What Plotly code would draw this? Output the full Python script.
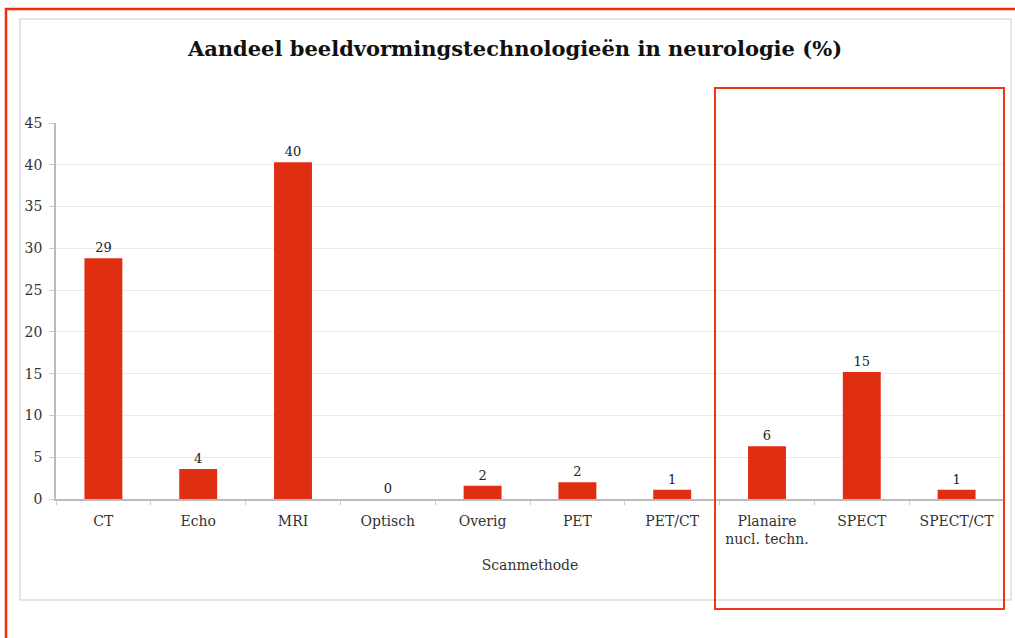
import plotly.graph_objects as go

# Data
categories = ["CT", "Echo", "MRI", "Optisch", "Overig", "PET", "PET/CT",
              "Planaire<br>nucl. techn.", "SPECT", "SPECT/CT"]
shares = [28.8, 3.6, 40.3, 0.0, 1.6, 2.0, 1.1, 6.3, 15.2, 1.1]

W, H = 1015, 638
# plot area in pixels
L, R, T, B = 56, 1004, 123, 499


def px(x):
    return (x - L) / (R - L)


def py(y):
    return (B - y) / (B - T)


font = "Georgia, 'DejaVu Serif', serif"
bar_red = "#e02e12"

fig = go.Figure()
fig.add_trace(go.Bar(
    x=categories,
    y=shares,
    width=0.4,
    marker=dict(color=bar_red, line=dict(width=0)),
    text=[f"{v:.0f}" for v in shares],
    textposition="outside",
    textfont=dict(size=13, color="#222", family=font),
    cliponaxis=False,
    hoverinfo="x+y",
))

shapes = [
    # light grey frame around the chart
    dict(type="rect", xref="paper", yref="paper",
         x0=px(20), x1=px(1011), y0=py(600), y1=py(19),
         line=dict(color="#dddddd", width=1.5), layer="below"),
    # red outer frame (runs off the right and bottom edges)
    dict(type="rect", xref="paper", yref="paper",
         x0=px(6), x1=px(1030), y0=py(660), y1=py(9),
         line=dict(color="#f52a0a", width=2.5)),
    # red highlight box
    dict(type="rect", xref="paper", yref="paper",
         x0=px(715), x1=px(1004), y0=py(609), y1=py(88),
         line=dict(color="#f0361a", width=2)),
]

fig.update_layout(
    width=W, height=H,
    margin=dict(l=L, r=W - R, t=T, b=H - B),
    paper_bgcolor="white",
    plot_bgcolor="white",
    showlegend=False,
    font=dict(family=font, size=14, color="#333"),
    title=dict(text="<b>Aandeel beeldvormingstechnologieën in neurologie (%)</b>",
               x=px(515), xref="paper", xanchor="center",
               y=1 - 49 / H, yanchor="middle",
               font=dict(size=21, color="#111", family=font)),
    xaxis=dict(
        title=dict(text="Scanmethode", font=dict(size=14, color="#333"), standoff=14),
        tickson="boundaries", ticks="outside", ticklen=4, tickcolor="#cccccc",
        ticklabelstandoff=8,
        showline=True, linecolor="#bbbbbb", linewidth=1.5,
        tickfont=dict(size=14, color="#333"),
    ),
    yaxis=dict(
        range=[0, 45], dtick=5, tickmode="linear",
        ticks="outside", ticklen=5, tickcolor="#cccccc",
        ticklabelstandoff=4,
        showline=True, linecolor="#bbbbbb", linewidth=1.5, mirror=False,
        gridcolor="#ebebeb", zeroline=False,
        tickfont=dict(size=14, color="#333"),
    ),
    shapes=shapes,
)

# drop the default page margin so the figure sits at the window's top-left
fig.write_html("out.html", config={"displayModeBar": False},
               post_script="document.body.style.margin='0px';")
